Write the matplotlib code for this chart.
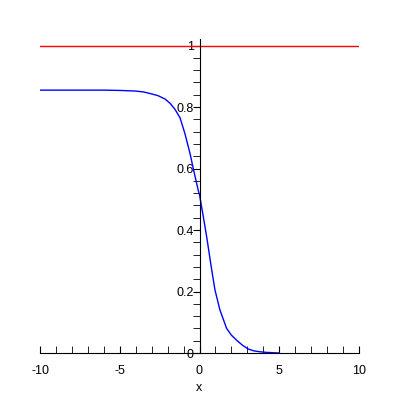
import matplotlib
matplotlib.use("Agg")
import matplotlib.pyplot as plt
from matplotlib.ticker import MultipleLocator

plt.rcParams['font.family'] = ['Liberation Sans', 'DejaVu Sans']

# curve
xs = [-10, -8, -6, -5, -4, -3.5, -3.1, -2.6, -2.16, -1.84, -1.53, -1.22, -0.91, -0.59, -0.39, -0.08, 0,
      0.24, 0.45, 0.76, 0.97, 1.28, 1.7, 2.0, 2.32, 2.7, 3.05, 3.4, 3.78, 4.2, 5]
ys = [0.855, 0.855, 0.855, 0.854, 0.852, 0.849, 0.844, 0.837, 0.826, 0.812, 0.792, 0.765, 0.713, 0.648, 0.60, 0.529, 0.515,
      0.443, 0.378, 0.272, 0.205, 0.14, 0.08, 0.058, 0.042, 0.025, 0.013, 0.007, 0.004, 0.002, 0.0]
line_x = [-10, 10]
line_y = [1, 1]

fig = plt.figure(figsize=(4, 4), dpi=100)
ax = fig.add_axes([0.1, 0.1175, 0.7975, 0.784])

ax.plot(line_x, line_y, color="red", lw=1)
ax.plot(xs, ys, color="blue", lw=1)

ax.set_xlim(-10, 10)
ax.set_ylim(0, 1.02)

ax.spines["left"].set_position(("data", 0))
ax.spines["bottom"].set_position(("data", 0))
ax.spines["right"].set_visible(False)
ax.spines["top"].set_visible(False)

ax.xaxis.set_major_locator(MultipleLocator(5))
ax.xaxis.set_minor_locator(MultipleLocator(1))
ax.yaxis.set_major_locator(MultipleLocator(0.2))
ax.yaxis.set_minor_locator(MultipleLocator(0.04))
ax.tick_params(axis="x", which="both", direction="in", length=5, labelsize=9, pad=9)
ax.tick_params(axis="y", which="both", direction="out", length=5, labelsize=9, pad=-1)
ax.set_xticks([-10, -5, 0, 5, 10])
ax.set_xticklabels(["-10", "-5", "0", "5", "10"])
ax.set_yticks([0, 0.2, 0.4, 0.6, 0.8, 1])
ax.set_yticklabels(["0", "0.2", "0.4", "0.6", "0.8", "1"])

fig.text(0.4975, 0.022, "x", ha="center", fontsize=9)

fig.savefig("out.png", dpi=100)
